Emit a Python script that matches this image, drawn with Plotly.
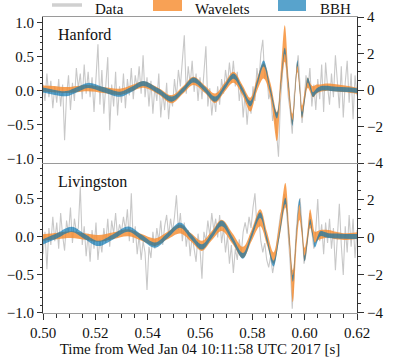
import numpy as np
import plotly.graph_objects as go

# ---------------- data (whitened strain, right-axis units) ----------------
T_START, T_END = 0.50, 0.62

hanford_data = [
    0.3, -0.6, 0.9, -0.4, 0.5, -1.0, 0.2, -0.7, 0.6, -0.9,
    0.3, -2.75, -0.3, 0.8, -1.1, 0.4, -0.6, 1.2, 0.1, 0.9,
    -0.5, 1.4, -0.2, 1.0, -0.4, 0.7, -1.2, 0.6, 2.5, -0.8,
    1.1, -1.3, 0.5, 1.8, -2.2, 0.3, -0.9, 1.0, -1.4, 0.2,
    -0.7, 0.9, -1.0, 0.6, -0.3, 1.2, -0.5, 0.8, 0.1, 1.3,
    -0.2, 1.9, -0.4, 0.7, -0.9, 0.5, -1.3, 0.2, -0.6, 0.9,
    -1.5, -0.1, -1.1, 0.4, -1.6, -0.3, -0.9, 0.6, -0.4, 1.1,
    0.2, 1.4, 3.0, -0.2, 1.3, 0.3, 1.6, -0.1, 0.9, -0.6,
    0.7, -0.5, 1.0, 2.4, -0.9, 0.1, -1.4, -0.3, -1.2, 0.2,
    -0.8, 0.6, -0.2, 1.1, 0.3, 1.5, 0.4, 1.6, 0.2, 1.0,
    -0.6, 0.3, -1.5, -0.2, -1.9, -0.5, -1.3, 0.2, -0.6, 1.2,
    0.4, 2.0, 2.75, 0.6, 1.1, -0.5, -0.1, -1.7, -1.0, -2.3,
    -3.65, -0.6, 0.9, 2.3, 1.2, -0.4, -1.2, -2.4, -0.3, 1.0,
    1.9, 0.2, -1.8, -0.7, 0.8, 0.1, 1.2, -0.9, 0.3, -1.1,
    0.6, -0.5, 1.4, -1.2, 1.5, 0.2, -0.8, 0.9, -0.4, 1.9,
    0.5, -1.0, 1.3, -1.5, 0.4, 1.6, -0.7, 0.9, -1.6, 0.8,
    -0.3,
]

livingston_data = [
    -0.9, 0.3, -1.7, 0.5, -0.4, 1.1, -0.2, 0.8, -0.6, 1.3,
    0.1, -0.7, 0.9, 0.2, 1.6, -0.3, 1.0, 0.3, 0.5, 2.7,
    -0.4, 0.6, -1.0, 0.2, -1.3, 0.4, -0.6, 0.8, -1.2, -0.1,
    -0.8, 0.5, -0.3, 1.0, -0.5, 0.9, 0.2, 1.3, 0.0, 0.7,
    0.3, 1.1, 0.4, 1.5, -0.2, 2.35, -0.3, 0.6, -0.9, 0.1,
    -1.2, -0.2, -0.8, -2.8, -0.5, -1.1, 0.3, -0.6, 0.5, -0.2,
    0.9, -0.4, 0.6, 1.2, 0.1, 1.0, 0.3, 1.1, 2.25, 0.4,
    1.3, -0.2, 0.8, -0.5, 0.4, -1.0, 0.1, -0.7, -1.3, 0.2,
    -0.6, -2.2, 0.3, -0.2, 0.9, 0.1, 1.3, 0.4, 1.0, 0.0,
    1.2, -0.3, 0.5, -0.8, 0.1, -1.4, -0.4, -1.9, -0.6, -1.2,
    -0.1, -0.9, 0.3, 0.8, 0.2, 1.1, 0.5, 1.6, 2.35, 0.6,
    1.0, -0.2, -0.8, -0.3, -1.2, -1.6, -1.0, -1.9, -1.3, -0.4,
    0.5, 1.2, 1.5, 2.3, 1.6, 0.2, -1.5, -3.8, -1.6, 0.3,
    1.6, 2.1, 0.6, -1.4, -0.9, 0.4, 1.3, 0.3, -0.6, 0.4,
    2.05, -0.2, 0.7, -0.9, 0.8, -0.3, 1.0, -0.6, 0.5, -1.75,
    0.3, 1.8, -0.4, -2.0, 0.6, -0.8, 1.2, -0.5, 1.0, -1.1,
    0.4,
]

# Hanford reconstructions (knot times, centre, half-width)
h_knots = [0.500, 0.504, 0.509, 0.513, 0.5172, 0.523, 0.5294, 0.534, 0.5383, 0.544,
           0.5492, 0.5535, 0.5575, 0.5618, 0.5658, 0.5694, 0.5728, 0.5762, 0.5792, 0.5818,
           0.5843, 0.5869, 0.5894, 0.5909, 0.5924, 0.5939, 0.5953, 0.5963, 0.5972, 0.5981,
           0.5990, 0.6001, 0.6012, 0.6022, 0.6032, 0.6045, 0.6060, 0.6080, 0.6120, 0.6160,
           0.6200]
h_bbh_mid = [0.0, -0.12, -0.2, 0.02, 0.25, 0.02, -0.23, 0.05, 0.36, -0.05,
             -0.5, 0.0, 0.55, 0.05, -0.5, 0.15, 0.76, 0.0, -0.75, 0.35,
             1.45, 0.0, -1.4, 0.4, 2.15, 0.2, -1.8, -0.2, 1.47, 0.1,
             -1.35, -0.4, 0.55, 0.15, -0.25, -0.05, 0.08, 0.1, 0.05, 0.02,
             -0.03]
h_bbh_half = [0.14, 0.14, 0.14, 0.14, 0.14, 0.14, 0.14, 0.14, 0.14, 0.14,
              0.14, 0.14, 0.14, 0.14, 0.14, 0.14, 0.15, 0.14, 0.15, 0.14,
              0.16, 0.15, 0.16, 0.15, 0.17, 0.15, 0.16, 0.15, 0.16, 0.14,
              0.15, 0.14, 0.14, 0.13, 0.13, 0.13, 0.13, 0.13, 0.13, 0.13,
              0.13]
h_wav_mid = [0.08, 0.05, 0.0, 0.05, 0.1, 0.0, -0.1, 0.1, 0.3, -0.05,
             -0.5, 0.0, 0.5, 0.05, -0.45, 0.15, 0.7, 0.0, -0.8, 0.3,
             1.05, 0.0, -2.0, 0.5, 2.55, 0.1, -1.6, -0.2, 1.25, 0.1,
             -1.2, -0.3, 0.4, 0.1, -0.1, 0.05, 0.1, 0.15, 0.12, 0.05,
             -0.05]
h_wav_half = [0.17, 0.17, 0.16, 0.17, 0.17, 0.16, 0.17, 0.17, 0.18, 0.18,
              0.22, 0.2, 0.22, 0.2, 0.26, 0.25, 0.3, 0.28, 0.38, 0.35,
              0.42, 0.4, 0.8, 0.6, 1.0, 0.5, 0.3, 0.3, 0.28, 0.3,
              0.35, 0.3, 0.28, 0.25, 0.3, 0.25, 0.2, 0.2, 0.2, 0.18,
              0.17]

# Livingston reconstructions
l_knots = [0.500, 0.5055, 0.5109, 0.516, 0.5211, 0.527, 0.5326, 0.5377, 0.5428, 0.5476,
           0.5524, 0.5566, 0.5607, 0.5645, 0.5683, 0.5724, 0.5764, 0.5797, 0.5830, 0.5856,
           0.5881, 0.5904, 0.5926, 0.5941, 0.5955, 0.5968, 0.5980, 0.5990, 0.6000, 0.6011,
           0.6021, 0.6030, 0.6039, 0.6050, 0.6060, 0.6090, 0.6120, 0.6150, 0.6200]
l_bbh_mid = [-0.23, 0.1, 0.43, 0.05, -0.32, 0.05, 0.44, 0.0, -0.41, 0.1,
             0.66, 0.05, -0.5, 0.1, 0.75, -0.1, -0.98, 0.1, 1.19, -0.1,
             -1.39, 0.2, 1.95, 0.0, -2.19, 0.0, 1.9, 0.4, -1.12, -0.1,
             0.84, 0.2, -0.41, -0.05, 0.2, 0.1, 0.08, 0.06, 0.05]
l_bbh_half = [0.14, 0.14, 0.14, 0.14, 0.14, 0.14, 0.14, 0.14, 0.14, 0.14,
              0.14, 0.14, 0.14, 0.14, 0.15, 0.14, 0.15, 0.14, 0.15, 0.14,
              0.16, 0.15, 0.17, 0.15, 0.17, 0.15, 0.16, 0.14, 0.15, 0.14,
              0.14, 0.13, 0.13, 0.13, 0.13, 0.13, 0.13, 0.13, 0.13]
l_wav_mid = [0.0, 0.08, 0.15, 0.05, -0.05, 0.1, 0.25, 0.0, -0.25, 0.1,
             0.45, 0.0, -0.45, 0.1, 0.65, -0.05, -0.8, 0.1, 1.05, -0.05,
             -1.1, 0.4, 2.25, 0.0, -2.6, -0.2, 1.35, 0.3, -0.9, 0.0,
             1.0, 0.5, 0.0, 0.1, 0.15, 0.2, 0.1, 0.05, 0.1]
l_wav_half = [0.17, 0.17, 0.18, 0.17, 0.18, 0.18, 0.19, 0.18, 0.2, 0.2,
              0.24, 0.22, 0.27, 0.25, 0.3, 0.28, 0.3, 0.3, 0.45, 0.35,
              0.3, 0.4, 0.65, 0.5, 0.85, 0.5, 0.42, 0.35, 0.35, 0.35,
              0.5, 0.4, 0.3, 0.25, 0.25, 0.2, 0.2, 0.18, 0.18]

panel_names = ["Hanford", "Livingston"]
legend_names = ["Data", "Wavelets", "BBH"]

# ---------------- styling ----------------
FONT = "Liberation Serif"
GREY = "#c8c8c8"
ORANGE = "rgba(246,140,48,0.82)"
BLUE = "rgba(1,115,178,0.66)"
W, H = 400, 359
ML, MR, MT, MB = 43, 43, 17, 46
PW, PH = W - ML - MR, H - MT - MB


def pxx(x):
    return (x - ML) / PW


def pxy(y):
    return (H - MB - y) / PH


SPLIT = pxy(163)

fig = go.Figure()


def add_panel(data, knots, wmid, whalf, bmid, bhalf, xa, ya):
    data = np.asarray(data, dtype=float)
    t = T_START + (T_END - T_START) * np.arange(len(data)) / (len(data) - 1)
    fig.add_trace(go.Scatter(x=t, y=data, mode="lines", line=dict(color=GREY, width=1.1),
                             xaxis=xa, yaxis=ya, showlegend=False, hoverinfo="skip"))
    for mid, half, col in ((wmid, whalf, ORANGE), (bmid, bhalf, BLUE)):
        mid = np.asarray(mid)
        half = np.asarray(half)
        fig.add_trace(go.Scatter(x=knots, y=mid - half, mode="lines",
                                 line=dict(width=0, shape="spline", smoothing=1.0),
                                 xaxis=xa, yaxis=ya, showlegend=False, hoverinfo="skip"))
        fig.add_trace(go.Scatter(x=knots, y=mid + half, mode="lines", fill="tonexty",
                                 fillcolor=col,
                                 line=dict(width=0, shape="spline", smoothing=1.0),
                                 xaxis=xa, yaxis=ya, showlegend=False, hoverinfo="skip"))


add_panel(hanford_data, h_knots, h_wav_mid, h_wav_half, h_bbh_mid, h_bbh_half, "x2", "y2")
add_panel(livingston_data, l_knots, l_wav_mid, l_wav_half, l_bbh_mid, l_bbh_half, "x", "y4")

tickfont = dict(family=FONT, size=15, color="#111")
AX = "#333"
HL = "#9a9a9a"

left_common = dict(showgrid=False, zeroline=False, showline=True, linecolor=AX, linewidth=1,
                   ticks="outside", ticklen=5, tickwidth=1, tickcolor=AX, automargin=False,
                   dtick=0.5, tick0=0, tickformat=".1f", tickfont=tickfont,
                   minor=dict(ticks="outside", ticklen=2.5, dtick=0.1, tickcolor=AX, showgrid=False))
right_common = dict(showgrid=False, zeroline=False, showline=True, linecolor=AX, linewidth=1,
                    ticks="outside", ticklen=6, tickwidth=1, tickcolor=AX, side="right",
                    dtick=2, tick0=0, tickfont=tickfont, automargin=False,
                    minor=dict(ticks="outside", ticklen=3, dtick=0.5, tickcolor=AX, showgrid=False))

fig.update_layout(
    width=W, height=H,
    margin=dict(l=ML, r=MR, t=MT, b=MB, pad=0, autoexpand=False),
    paper_bgcolor="white", plot_bgcolor="white",
    font=dict(family=FONT, size=15, color="#111"),
    showlegend=False,
    xaxis=dict(domain=[0, 1], anchor="y3", range=[T_START, T_END], showgrid=False, zeroline=False,
               showline=True, linecolor=HL, linewidth=1, automargin=False,
               ticks="outside", ticklen=6, tickcolor=AX, dtick=0.02, tick0=0.5, tickformat=".2f",
               tickfont=tickfont,
               minor=dict(ticks="outside", ticklen=3.5, dtick=0.005, tickcolor=AX, showgrid=False),
               title=dict(text="Time from Wed Jan 04 10:11:58 UTC 2017 [s]",
                          font=dict(family=FONT, size=15, color="#111"), standoff=1)),
    xaxis2=dict(domain=[0, 1], anchor="y", matches="x", range=[T_START, T_END], showgrid=False,
                zeroline=False, showline=True, linecolor=HL, linewidth=1, mirror=True,
                showticklabels=False, ticks="", automargin=False),
    yaxis=dict(domain=[SPLIT, 1], anchor="x2", range=[-1.06, 1.08], **left_common),
    yaxis2=dict(overlaying="y", anchor="x2", range=[-4.0, 4.0], **right_common),
    yaxis3=dict(domain=[0, SPLIT], anchor="x", range=[-1.002, 0.97], **left_common),
    yaxis4=dict(overlaying="y3", anchor="x", range=[-4.03, 3.97], **right_common),
)

# dummy traces so the left axes are drawn
fig.add_trace(go.Scatter(x=[None], y=[None], xaxis="x2", yaxis="y", showlegend=False))
fig.add_trace(go.Scatter(x=[None], y=[None], xaxis="x", yaxis="y3", showlegend=False))

# panel labels
fig.add_annotation(text=panel_names[0], xref="paper", yref="paper", x=pxx(56), y=pxy(34),
                   xanchor="left", yanchor="middle", showarrow=False,
                   font=dict(family=FONT, size=16, color="#111"))
fig.add_annotation(text=panel_names[1], xref="paper", yref="paper", x=pxx(56), y=pxy(182),
                   xanchor="left", yanchor="middle", showarrow=False,
                   font=dict(family=FONT, size=16, color="#111"))

# legend (drawn manually along the top edge)
fig.add_shape(type="line", xref="paper", yref="paper", x0=pxx(52), x1=pxx(82),
              y0=pxy(5), y1=pxy(5), line=dict(color="#d0d0d0", width=3.5))
fig.add_shape(type="rect", xref="paper", yref="paper", x0=pxx(153), x1=pxx(182),
              y0=pxy(11), y1=pxy(-3), line=dict(width=0), fillcolor=ORANGE)
fig.add_shape(type="rect", xref="paper", yref="paper", x0=pxx(278), x1=pxx(306),
              y0=pxy(11), y1=pxy(-3), line=dict(width=0), fillcolor=BLUE)
for name, x in zip(legend_names, (93, 193, 318)):
    fig.add_annotation(text=name, xref="paper", yref="paper", x=pxx(x), y=pxy(-1.5),
                       xanchor="left", yanchor="top", showarrow=False,
                       font=dict(family=FONT, size=15, color="#111"))

fig.write_html("out.html", config={"displayModeBar": False},
               post_script="document.body.style.margin='0px';document.body.style.overflow='hidden';")
